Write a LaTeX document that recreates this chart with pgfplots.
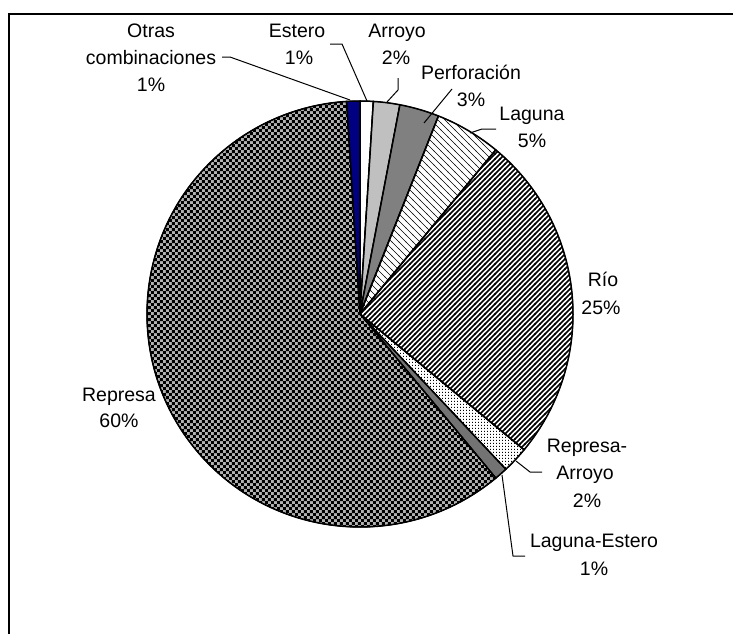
\documentclass[border=0pt]{standalone}
\usepackage{pgfplots}
\pgfplotsset{compat=1.18}
\usepackage{pgfplotstable}
\usepackage{fontspec}
\setmainfont{Liberation Sans}
\usetikzlibrary{patterns}

\pgfdeclarepatternformonly{finechecker}{\pgfpointorigin}{\pgfqpoint{3.2pt}{3.2pt}}{\pgfqpoint{3.2pt}{3.2pt}}{%
  \pgfpathrectangle{\pgfpointorigin}{\pgfqpoint{1.6pt}{1.6pt}}%
  \pgfpathrectangle{\pgfqpoint{1.6pt}{1.6pt}}{\pgfqpoint{1.6pt}{1.6pt}}%
  \pgfusepath{fill}}
\pgfdeclarepatternformonly{rioline}{\pgfqpoint{-0.5pt}{-0.5pt}}{\pgfqpoint{3pt}{3pt}}{\pgfqpoint{2.5pt}{2.5pt}}{%
  \pgfsetlinewidth{0.8pt}\pgfpathmoveto{\pgfqpoint{-0.2pt}{-0.2pt}}\pgfpathlineto{\pgfqpoint{2.7pt}{2.7pt}}\pgfusepath{stroke}}
\pgfdeclarepatternformonly{lagline}{\pgfqpoint{-0.5pt}{-0.5pt}}{\pgfqpoint{4pt}{4pt}}{\pgfqpoint{3.5pt}{3.5pt}}{%
  \pgfsetlinewidth{0.35pt}\pgfpathmoveto{\pgfqpoint{-0.2pt}{3.7pt}}\pgfpathlineto{\pgfqpoint{3.7pt}{-0.2pt}}\pgfusepath{stroke}}
\pgfdeclarepatternformonly{radots}{\pgfpointorigin}{\pgfqpoint{1.6pt}{1.6pt}}{\pgfqpoint{1.6pt}{1.6pt}}{%
  \pgfpathrectangle{\pgfpointorigin}{\pgfqpoint{0.5pt}{0.7pt}}\pgfusepath{fill}}
\pgfdeclareplotmark{emptymark}{}

\definecolor{lgr}{RGB}{192,192,192}
\definecolor{dgr}{RGB}{128,128,128}
\definecolor{navy}{RGB}{0,0,128}
\tikzset{
  s1/.style={fill=white},
  s2/.style={fill=lgr},
  s3/.style={fill=dgr},
  s4/.style={pattern=lagline},
  s5/.style={pattern=rioline},
  s6/.style={pattern=radots},
  s7/.style={fill=black!55},
  s8/.style={fill=black!30, postaction={pattern=finechecker}},
  s9/.style={fill=navy},
}

% x y = pie centre (px), start = cumulative %, val = share %
\pgfplotstableread{
x   y   start val idx
360 320 0     1   1
360 320 1     2   2
360 320 3     3   3
360 320 6     5   4
360 320 11    25  5
360 320 36    2   6
360 320 38    1   7
360 320 39    60  8
360 320 99    1   9
}\piedata

\begin{document}
\begin{tikzpicture}[x=0.5pt,y=0.5pt,every node/.style={font=\fontsize{9.75}{12}\selectfont, inner sep=0pt, anchor=base}]
\useasboundingbox (0,0) rectangle (733,634);
\begin{axis}[at={(0,0)}, anchor=south west, x=0.5pt, y=0.5pt,
  xmin=0, xmax=733, ymin=0, ymax=634, enlargelimits=false,
  hide axis, clip=false]
\addplot[scatter, only marks, mark=emptymark,
  visualization depends on={90-3.6*\thisrow{start} \as \angA},
  visualization depends on={90-3.6*(\thisrow{start}+\thisrow{val}) \as \angB},
  visualization depends on={\thisrow{idx} \as \sidx},
  scatter/@pre marker code/.code={%
    \pgfmathtruncatemacro\sliceidx{\sidx}%
    \path[s\sliceidx] (0pt,0pt) -- (\angA:106.5pt)
      arc[start angle=\angA, end angle=\angB, radius=106.5pt] -- cycle;
    \draw[black, line width=0.75pt, line join=round] (0pt,0pt) -- (\angA:106.5pt)
      arc[start angle=\angA, end angle=\angB, radius=106.5pt] -- cycle;},
  scatter/@post marker code/.code={},
] table[x=x,y=y] {\piedata};
\end{axis}

% frame
\draw[line width=0.8pt] (9,0) -- (9,620) -- (733,620);

% leader lines
\begin{scope}[line width=0.5pt]
\draw (222,577) -- (230,577) -- (350,534);
\draw (330,590) -- (342,590) -- (367,533);
\draw (398,556) -- (398,544) -- (387,532);
\draw (452,545) -- (424,511);
\draw (496,505) -- (482,505) -- (470,501);
\draw (542,162) -- (530,162) -- (516,173);
\draw (525,78) -- (513,78) -- (502,159);
\end{scope}

% labels
\node at (151,597) {Otras};
\node at (151,570) {combinaciones};
\node at (151,543) {1\%};
\node at (297,597) {Estero};
\node at (299,570) {1\%};
\node at (397,597) {Arroyo};
\node at (396,570) {2\%};
\node at (471,555) {Perforación};
\node at (471,528) {3\%};
\node at (532,514) {Laguna};
\node at (532,487) {5\%};
\node at (603,348) {Río};
\node at (601,320) {25\%};
\node at (587,182) {Represa-};
\node at (585,155) {Arroyo};
\node at (587,127) {2\%};
\node at (594,87) {Laguna-Estero};
\node at (594,59) {1\%};
\node at (119,233) {Represa};
\node at (119,207) {60\%};
\end{tikzpicture}
\end{document}
